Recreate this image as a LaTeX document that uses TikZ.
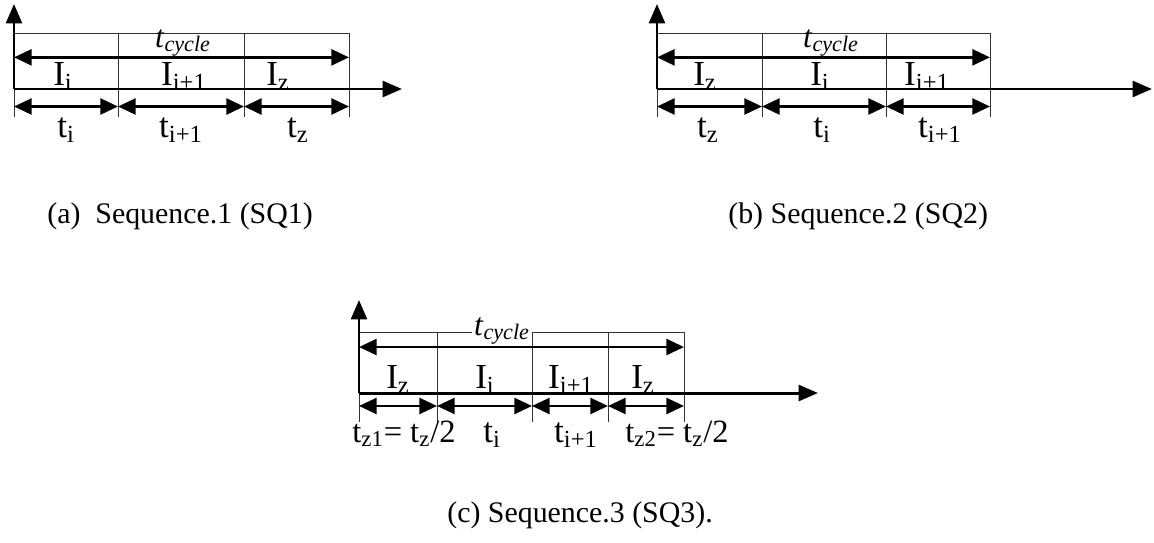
\documentclass[tikz,border=0pt]{standalone}
\usepackage{fontspec}
\setmainfont{Liberation Serif}
\usepackage{tikz}
\usetikzlibrary{arrows.meta, positioning, calc}

\begin{document}
\begin{tikzpicture}[
  x=0.02cm, y=-0.02cm,
  axis/.style={-{Triangle[length=11, width=9]}, line width=1.7pt},
  span/.style={{Triangle[length=10, width=9]}-{Triangle[length=10, width=9]}, line width=1.6pt},
  guide/.style={line width=0.5pt, black!80},
  lbl/.style={font=\fontsize{20}{24}\selectfont, inner sep=0pt, anchor=base},
  cyc/.style={font=\fontsize{18}{22}\selectfont, inner sep=0pt, anchor=base},
  caption/.style={font=\fontsize{17}{20}\selectfont, inner sep=0pt, anchor=base west}
]
  \useasboundingbox[fill=white] (0,0) rectangle (1154,542);

  % (a) Sequence 1
  \coordinate (a0) at (14,89);
  \coordinate (aY) at (14,4);
  \coordinate (aX) at (402,89);
  \coordinate (a1t) at (14,33);   \coordinate (a1b) at (14,117);
  \coordinate (a2t) at (118,33);  \coordinate (a2b) at (118,117);
  \coordinate (a3t) at (244,33);  \coordinate (a3b) at (244,117);
  \coordinate (a4t) at (349,33);  \coordinate (a4b) at (349,117);
  \draw[guide] (a1t) -- (a4t);
  \draw[guide] (a0) -- (a1b);
  \draw[guide] (a2t) -- (a2b);
  \draw[guide] (a3t) -- (a3b);
  \draw[guide] (a4t) -- (a4b);
  \draw[axis] (a0) -- (aY);
  \draw[axis] (a0) -- (aX);
  \draw[span] ($(a1t)!0.29!(a1b)$) -- ($(a4t)!0.29!(a4b)$);
  \draw[span] ($(a1t)!0.875!(a1b)$) -- ($(a2t)!0.875!(a2b)$);
  \draw[span] ($(a2t)!0.875!(a2b)$) -- ($(a3t)!0.875!(a3b)$);
  \draw[span] ($(a3t)!0.875!(a3b)$) -- ($(a4t)!0.875!(a4b)$);
  \node[cyc] (acyc) at (183,47) {\textit{t}\textsubscript{\textit{cycle}}};
  \node[lbl] (aI1) at (63,85) {I\textsubscript{i}};
  \node[lbl] (aI2) at (184,85) {I\textsubscript{i+1}};
  \node[lbl] (aI3) at (278,85) {I\textsubscript{z}};
  \node[lbl] (at1) at (66,137) {t\textsubscript{i}};
  \node[lbl] (at2) at (181,137) {t\textsubscript{i+1}};
  \node[lbl] (at3) at (298,137) {t\textsubscript{z}};
  \node[caption] (acap) at (47,223) {(a)\ \ Sequence.1 (SQ1)};

  % (b) Sequence 2
  \coordinate (b0) at (657,89);
  \coordinate (bY) at (657,4);
  \coordinate (bX) at (1152,89);
  \coordinate (b1t) at (657,33);  \coordinate (b1b) at (657,117);
  \coordinate (b2t) at (762,33);  \coordinate (b2b) at (762,117);
  \coordinate (b3t) at (886,33);  \coordinate (b3b) at (886,117);
  \coordinate (b4t) at (990,33);  \coordinate (b4b) at (990,117);
  \draw[guide] (b1t) -- (b4t);
  \draw[guide] (b0) -- (b1b);
  \draw[guide] (b2t) -- (b2b);
  \draw[guide] (b3t) -- (b3b);
  \draw[guide] (b4t) -- (b4b);
  \draw[axis] (b0) -- (bY);
  \draw[axis] (b0) -- (bX);
  \draw[span] ($(b1t)!0.29!(b1b)$) -- ($(b4t)!0.29!(b4b)$);
  \draw[span] ($(b1t)!0.875!(b1b)$) -- ($(b2t)!0.875!(b2b)$);
  \draw[span] ($(b2t)!0.875!(b2b)$) -- ($(b3t)!0.875!(b3b)$);
  \draw[span] ($(b3t)!0.875!(b3b)$) -- ($(b4t)!0.875!(b4b)$);
  \node[cyc] (bcyc) at (831,47) {\textit{t}\textsubscript{\textit{cycle}}};
  \node[lbl] (bI1) at (705,85) {I\textsubscript{z}};
  \node[lbl] (bI2) at (820,85) {I\textsubscript{i}};
  \node[lbl] (bI3) at (927,85) {I\textsubscript{i+1}};
  \node[lbl] (bt1) at (708,137) {t\textsubscript{z}};
  \node[lbl] (bt2) at (822,137) {t\textsubscript{i}};
  \node[lbl] (bt3) at (940,137) {t\textsubscript{i+1}};
  \node[caption] (bcap) at (728,223) {(b) Sequence.2 (SQ2)};

  % (c) Sequence 3
  \coordinate (c0) at (359,393);
  \coordinate (cY) at (359,300);
  \coordinate (cX) at (818,393);
  \coordinate (c1t) at (359,332); \coordinate (c1b) at (359,422);
  \coordinate (c2t) at (437,332); \coordinate (c2b) at (437,422);
  \coordinate (c3t) at (532,332); \coordinate (c3b) at (532,422);
  \coordinate (c4t) at (608,332); \coordinate (c4b) at (608,422);
  \coordinate (c5t) at (684,332); \coordinate (c5b) at (684,422);
  \draw[guide] (c1t) -- (c5t);
  \draw[guide] (c0) -- (c1b);
  \draw[guide] (c2t) -- (c2b);
  \draw[guide] (c3t) -- (c3b);
  \draw[guide] (c4t) -- (c4b);
  \draw[guide] (c5t) -- (c5b);
  \draw[axis] (c0) -- (cY);
  \draw[axis] (c0) -- (cX);
  \draw[span] ($(c1t)!0.167!(c1b)$) -- ($(c5t)!0.167!(c5b)$);
  \draw[span] ($(c1t)!0.822!(c1b)$) -- ($(c2t)!0.822!(c2b)$);
  \draw[span] ($(c2t)!0.822!(c2b)$) -- ($(c3t)!0.822!(c3b)$);
  \draw[span] ($(c3t)!0.822!(c3b)$) -- ($(c4t)!0.822!(c4b)$);
  \draw[span] ($(c4t)!0.822!(c4b)$) -- ($(c5t)!0.822!(c5b)$);
  \node[cyc, fill=white, inner sep=1pt] (ccyc) at (502,335) {\textit{t}\textsubscript{\textit{cycle}}};
  \node[lbl] (cI1) at (398,388) {I\textsubscript{z}};
  \node[lbl] (cI2) at (485,388) {I\textsubscript{i}};
  \node[lbl] (cI3) at (571,388) {I\textsubscript{i+1}};
  \node[lbl] (cI4) at (643,388) {I\textsubscript{z}};
  \node[lbl, font=\fontsize{18.5}{22}\selectfont] (ct1) at (404,442) {t\textsubscript{z1}= t\textsubscript{z}/2};
  \node[lbl] (ct2) at (492,442) {t\textsubscript{i}};
  \node[lbl] (ct3) at (576,442) {t\textsubscript{i+1}};
  \node[lbl, font=\fontsize{18.5}{22}\selectfont] (ct4) at (677,442) {t\textsubscript{z2}= t\textsubscript{z}/2};
  \node[caption] (ccap) at (447,522) {(c) Sequence.3 (SQ3).};
\end{tikzpicture}
\end{document}
